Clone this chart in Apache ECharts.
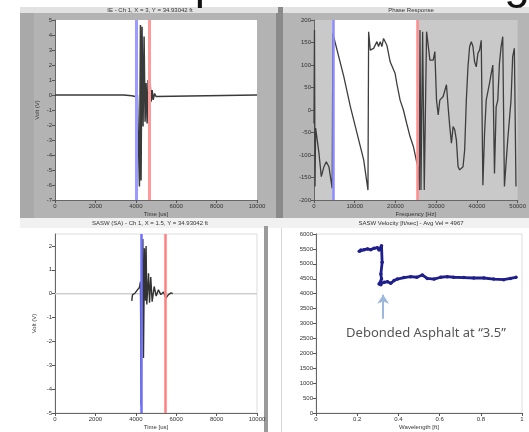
<!DOCTYPE html>
<html>
<head>
<meta charset="utf-8">
<script src="https://cdn.jsdelivr.net/npm/echarts@6/dist/echarts.min.js"></script>
<style>
  html, body { margin: 0; padding: 0; background: #ffffff; }
  #chart { width: 529px; height: 432px; }
</style>
</head>
<body>
<div id="chart"></div>
<script>
// Impact-echo waveform (top left)
const ieTime = [0, 3400, 3450, 3800, 3850, 3970, 4080, 4150, 4180, 4230, 4260, 4310, 4360, 4410, 4460, 4510, 4560, 4610, 4660, 4710, 4760, 4810, 4860, 4930, 5000, 5070, 10000];
const ieVolt = [0, 0, -0.05, -0.05, -0.07, -0.1, 0, 0.1, -6.1, 4.67, -5.7, 4.55, -2.1, 3.9, -1.78, 0.8, -1.9, 1.0, -0.55, 0.9, -0.45, 0.33, -0.33, 0.1, -0.1, 0, 0];
const ieCursors = [4000, 4680];

// Phase response (top right)
const phaseFreq = [0, 120, 250, 400, 1220, 1790, 2440, 3010, 3660, 4470,
  4630, 7320, 8940, 10570, 12200, 13250,
  13410, 13820, 14630, 15450, 15850, 16260, 16670, 17070, 17480, 17890, 18290, 18700, 19110, 19920, 20330, 21140, 21950, 22760, 23580, 24390, 25200, 25610,
  25850, 26020, 26260, 26670, 27070, 27640, 28460, 29270, 29670, 30080, 30490, 30890, 31710, 32520, 32930, 33330, 33740, 34150, 34550, 34960, 35370, 35770, 36590, 36990, 37400, 37800, 38210, 38620, 39020, 39430, 39840, 40240, 40650, 41060, 41460, 41870, 42280, 43090, 43500, 43900, 44310, 44720, 45120, 45530, 45940, 46340, 46750, 47560, 48370, 48780, 49190, 49590];
const phaseDeg = [-30, 178, -170, -40, -96, -148, -126, -115, -126, -174,
  170, 74, 7, -52, -111, -178,
  174, 133, 137, 152, 141, 152, 141, 159, 163, 144, 126, 107, 107, 81, 59, 22, 0, -30, -59, -81, -115, -130,
  -178, 178, -178, 174, -178, 174, 111, 111, 130, 22, -11, 22, 30, 56, 7, -37, -74, -37, -44, -67, -126, -133, -126, -89, 22, 96, 141, 152, 141, 107, 96, 126, 133, 155, -167, -52, 22, 59, 81, 100, -141, 7, 22, 104, 141, 163, -170, -67, 22, 119, 137, -170];
const phaseCursors = [4630, 25450];

// SASW waveform (bottom left)
const saTime = [3800, 3835, 3970, 4080, 4180, 4230, 4265, 4300, 4350, 4380, 4430, 4480, 4510, 4545, 4630, 4680, 4740, 4810, 4910, 5010, 5120, 5240, 5370, 5490, 5620, 5740, 5830];
const saVolt = [-0.3, -0.05, 0.03, 0.16, 0.26, 0.5, -4.7, 0.57, 2.29, -2.7, 1.9, -0.3, 2.0, -0.45, 0.85, -0.38, 0.7, -0.34, 0.3, -0.1, 0.16, -0.04, 0.07, -0.18, -0.04, 0.03, 0];
const saCursors = [4250, 5440];

// Dispersion curve (bottom right)
const wavelength = [0.21, 0.218, 0.234, 0.25, 0.266, 0.282, 0.298, 0.306, 0.318, 0.321, 0.315, 0.318, 0.306, 0.315, 0.331, 0.347, 0.363, 0.379, 0.395, 0.427, 0.46, 0.49, 0.516, 0.54, 0.573, 0.605, 0.637, 0.669, 0.718, 0.766, 0.815, 0.863, 0.911, 0.944, 0.971];
const velocity = [5420, 5465, 5475, 5500, 5475, 5520, 5540, 5465, 5610, 5050, 4660, 4490, 4320, 4300, 4380, 4400, 4350, 4440, 4490, 4540, 4570, 4550, 4625, 4510, 4490, 4550, 4570, 4550, 4540, 4525, 4525, 4490, 4470, 4510, 4550];
const arrowAt = 0.326;
const arrowFrom = 3160;
const arrowTo = 3960;

const zip = (a, b) => a.map((v, i) => [v, b[i]]);

const FONT = 'Liberation Sans';
const tiny = { fontFamily: FONT, fontSize: 6, color: '#333' };
const plain = (v) => String(Math.round(v * 1000) / 1000);

function valueAxis(gridIndex, min, max, interval, name, extra) {
  return Object.assign({
    type: 'value', gridIndex, min, max, interval,
    name, nameLocation: 'middle', nameGap: 11,
    nameTextStyle: Object.assign({}, tiny),
    axisLine: { show: true, onZero: false, lineStyle: { color: '#666', width: 1 } },
    axisTick: { show: true, length: 3, lineStyle: { color: '#555' } },
    axisLabel: Object.assign({ margin: 3, showMaxLabel: true, formatter: plain }, tiny),
    splitLine: { show: false }
  }, extra || {});
}

function cursorLines(values, colors, width) {
  return {
    silent: true, symbol: 'none', animation: false,
    label: { show: false },
    data: values.map((v, i) => ({ xAxis: v, lineStyle: { color: colors[i], width, type: 'solid' } }))
  };
}

const chart = echarts.init(document.getElementById('chart'), null, { renderer: 'canvas' });

chart.setOption({
  animation: false,
  backgroundColor: '#ffffff',
  graphic: [
    // panel frames
    { type: 'rect', z: -20, shape: { x: 20, y: 7, width: 258, height: 211 }, style: { fill: '#b3b3b3' } },
    { type: 'rect', z: -19, shape: { x: 20, y: 13, width: 14, height: 205 }, style: { fill: '#a9a9a9' } },
    { type: 'rect', z: -19, shape: { x: 20, y: 7, width: 258, height: 6 }, style: { fill: '#e2e2e2' } },
    { type: 'rect', z: -20, shape: { x: 276, y: 7, width: 7, height: 211 }, style: { fill: '#8a8a8a' } },
    { type: 'rect', z: -20, shape: { x: 283, y: 7, width: 246, height: 211 }, style: { fill: '#b5b5b5' } },
    { type: 'rect', z: -19, shape: { x: 283, y: 7, width: 246, height: 6 }, style: { fill: '#e2e2e2' } },
    { type: 'rect', z: -20, shape: { x: 20, y: 218, width: 509, height: 10 }, style: { fill: '#f1f1f1' } },
    { type: 'rect', z: -20, shape: { x: 264, y: 226, width: 4, height: 206 }, style: { fill: '#9a9a9a' } },
    { type: 'rect', z: -20, shape: { x: 281, y: 228, width: 1, height: 204 }, style: { fill: '#d6d6d6' } },
    // page heading, mostly above the visible area
    { type: 'text', z: 10, left: 141, top: -38, style: { text: 'Asphalt Debonding', fontFamily: FONT, fontSize: 46, fill: '#111' } },
    // panel captions
    { type: 'text', z: 10, x: 150, y: 10, style: { text: 'IE - Ch 1, X = 3, Y = 34.93042 ft', align: 'center', verticalAlign: 'middle', fontFamily: FONT, fontSize: 6, fill: '#333' } },
    { type: 'text', z: 10, x: 411, y: 10, style: { text: 'Phase Response', align: 'center', verticalAlign: 'middle', fontFamily: FONT, fontSize: 6, fill: '#333' } },
    { type: 'text', z: 10, x: 150, y: 223, style: { text: 'SASW (SA) - Ch 1, X = 1.5, Y = 34.93042 ft', align: 'center', verticalAlign: 'middle', fontFamily: FONT, fontSize: 6, fill: '#333' } },
    { type: 'text', z: 10, x: 411, y: 223, style: { text: 'SASW Velocity [ft/sec] - Avg Vel = 4967', align: 'center', verticalAlign: 'middle', fontFamily: FONT, fontSize: 6, fill: '#333' } },
    // annotation text
    { type: 'text', z: 10, x: 426, y: 333, style: { text: 'Debonded Asphalt at \u201C3.5\u201D', align: 'center', verticalAlign: 'middle', fontFamily: 'Noto Sans', fontSize: 13, fill: '#555' } }
  ],
  grid: [
    { left: 55, top: 20, width: 202, height: 180, show: true, backgroundColor: '#ffffff', borderWidth: 0 },
    { left: 314, top: 20, width: 205, height: 180, show: true, backgroundColor: '#c9c9c9', borderWidth: 0 },
    { left: 55, top: 234, width: 202, height: 179, show: true, backgroundColor: '#ffffff', borderColor: '#dddddd', borderWidth: 1 },
    { left: 316, top: 234, width: 206, height: 179, show: true, backgroundColor: '#ffffff', borderColor: '#dddddd', borderWidth: 1 }
  ],
  xAxis: [
    valueAxis(0, 0, 10000, 2000, 'Time [us]'),
    valueAxis(1, 0, 50000, 10000, 'Frequency [Hz]'),
    valueAxis(2, 0, 10000, 2000, 'Time [us]'),
    valueAxis(3, 0, 1, 0.2, 'Wavelength [ft]')
  ],
  yAxis: [
    valueAxis(0, -7, 5, 1, 'Volt (V)', { nameGap: 15, nameRotate: 90 }),
    valueAxis(1, -200, 200, 50, '', {}),
    valueAxis(2, -5, 2.5, 1, 'Volt (V)', { nameGap: 18, nameRotate: 90, axisLabel: Object.assign({ margin: 3, showMaxLabel: false, formatter: plain }, tiny) }),
    valueAxis(3, 0, 6000, 500, '', {})
  ],
  series: [
    {
      type: 'line', xAxisIndex: 0, yAxisIndex: 0, data: zip(ieTime, ieVolt),
      showSymbol: false, lineStyle: { color: '#3a3a3a', width: 1.5 }, z: 3,
      markLine: cursorLines(ieCursors, ['#9a9aff', '#ff9a9a'], 3)
    },
    {
      type: 'line', xAxisIndex: 1, yAxisIndex: 1, data: zip(phaseFreq, phaseDeg),
      showSymbol: false, lineStyle: { color: '#3e3e3e', width: 1.3 }, z: 3,
      markArea: { silent: true, itemStyle: { color: '#ffffff' }, data: [[{ xAxis: phaseCursors[0] }, { xAxis: phaseCursors[1] }]] },
      markLine: cursorLines(phaseCursors, ['#8c8cff', '#ff8c8c'], 2.5)
    },
    {
      type: 'line', xAxisIndex: 2, yAxisIndex: 2, data: [[0, 0], [10000, 0]],
      showSymbol: false, lineStyle: { color: '#cfcfcf', width: 1.5 }, z: 2,
      markLine: cursorLines(saCursors, ['#7070ff', '#ff8080'], 2.5)
    },
    {
      type: 'line', xAxisIndex: 2, yAxisIndex: 2, data: zip(saTime, saVolt),
      showSymbol: false, lineStyle: { color: '#333333', width: 1.4 }, z: 4
    },
    {
      type: 'line', xAxisIndex: 3, yAxisIndex: 3, data: zip(wavelength, velocity),
      symbol: 'circle', symbolSize: 3.5, showSymbol: true,
      itemStyle: { color: '#1e1e8c' },
      lineStyle: { color: '#1e1e8c', width: 2.8 }, z: 4,
      markLine: {
        silent: true, animation: false, symbol: ['none', 'arrow'], symbolSize: 9,
        label: { show: false },
        lineStyle: { color: '#9db8dc', width: 2, type: 'solid' },
        data: [[{ coord: [arrowAt, arrowFrom] }, { coord: [arrowAt, arrowTo] }]]
      }
    }
  ]
});
</script>
</body>
</html>
